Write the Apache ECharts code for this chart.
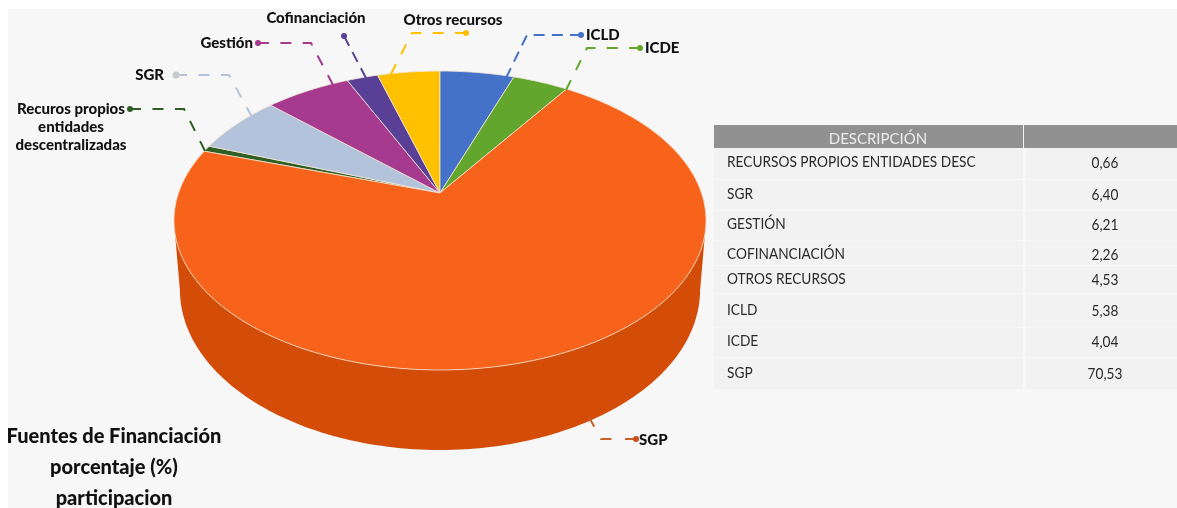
<!DOCTYPE html>
<html><head><meta charset="utf-8">
<style>html,body{margin:0;padding:0;background:#fff}#c{width:1177px;height:508px}</style>
<script src="https://cdn.jsdelivr.net/npm/echarts@6/dist/echarts.min.js"></script>
</head><body><div id="c"></div>
<script>
const categories = ['RECURSOS PROPIOS ENTIDADES DESC','SGR','GESTIÓN','COFINANCIACIÓN','OTROS RECURSOS','ICLD','ICDE','SGP'];
const values = [0.66,6.40,6.21,2.26,4.53,5.38,4.04,70.53];
const valueLabels = ['0,66','6,40','6,21','2,26','4,53','5,38','4,04','70,53'];
const calloutLabels = ['Recuros propios\nentidades\ndescentralizadas','SGR','Gestión','Cofinanciación','Otros recursos','ICLD','ICDE','SGP'];
const topColors = ['#2F5F25','#B4C3DC','#A63A8E','#5A3F96','#FFC000','#4472C8','#63A62E','#F7631B'];
const sideColors = ['#234a1b','#8f9bb0','#7f2c6d','#452f74','#c79500','#34589b','#4c8023','#D34C08'];
const titleLines = ['Fuentes de Financiación','porcentaje (%)','participacion'];
const tableHeader = 'DESCRIPCIÓN';

// layout (pixels), separate from the data
const P = {x:440, y:193, a:261.5, b:144.4, p:0.184, midY:220.5, botY:290, sx:260/266, sy:160/149.5};
const firstAtTop = 5; // ICLD starts at 12 o'clock
const total = values.reduce((s,v)=>s+v,0);
const offset = values.slice(0,firstAtTop).reduce((s,v)=>s+v,0);
function rim(pct){
  const t = (pct-offset)/total*2*Math.PI, u=Math.sin(t), v=-Math.cos(t), d=1-P.p*v;
  return [P.x+P.a*u/d, P.y+P.b*v/d];
}
function lower(pt){ return [P.x+(pt[0]-P.x)*P.sx, P.botY+(pt[1]-P.midY)*P.sy]; }
function arc(from,to){
  const n=Math.max(2,Math.ceil((to-from)*3)), pts=[];
  for(let i=0;i<=n;i++) pts.push(rim(from+(to-from)*i/n));
  return pts;
}
function startOf(i){return values.slice(0,i).reduce((s,v)=>s+v,0);}
const seriesData = values.map((v,i)=>({value:[i,v],name:categories[i]}));

const leaders = [
 [[130,109],[184,109],[205,151]],
 [[176,75],[229,75],[252,117]],
 [[258,43],[311,43],[333,85]],
 [[344,36],[366,78]],
 [[466,33],[412,33],[391,74]],
 [[581,35],[527,35],[506,78]],
 [[640,48],[587,48],[566,90]],
 [[636,439],[601,439],[589,417]]
];
const labelPos = [
 {x:71,y:100,align:'center',lh:18},{x:164,y:75,align:'right'},{x:253,y:43,align:'right'},
 {x:316,y:18,align:'center'},{x:453,y:20,align:'center'},{x:586,y:35,align:'left'},
 {x:645,y:48,align:'left'},{x:639,y:440,align:'left'}
];
const leaderColors = ['#2F5F25','#B4C3DC','#A63A8E','#5A3F96','#FFC000','#4472C8','#63A62E','#C9602C'];
const dotColors = ['#2F5F25','#C4C9CC','#A63A8E','#5A3F96','#FFC000','#4472C8','#63A62E','#C9501C'];
const rowTops = [148,180,211,241,266,294,328,358];
const rowBottoms = [179,210,240,265,293,327,357,389];
const rowText = [162,194,224,254,279,310,341,373];
const FONT = 'Lato';
const TEXT_SQUEEZE = 0.912;

function fitDash(pts){
  let L=0; for(let i=1;i<pts.length;i++) L+=Math.hypot(pts[i][0]-pts[i-1][0],pts[i][1]-pts[i-1][1]);
  const d=11, n=Math.max(2,Math.round((L+9)/20));
  return [d,(L-n*d)/(n-1)];
}

const g = [];
g.push({type:'rect',z:0,shape:{x:8,y:9,width:1169,height:499},style:{fill:'#F7F7F7'}});
// table
g.push({type:'rect',shape:{x:714,y:125,width:309,height:23},style:{fill:'#919191'}});
g.push({type:'rect',shape:{x:1024,y:125,width:153,height:23},style:{fill:'#919191'}});
g.push({type:'text',x:878,y:139,style:{x:0,y:0,text:tableHeader,align:'center',verticalAlign:'middle',fill:'#ececec',font:'15px '+FONT}});
categories.forEach((c,i)=>{
  const h=rowBottoms[i]-rowTops[i];
  g.push({type:'rect',shape:{x:714,y:rowTops[i],width:309,height:h},style:{fill:'#F2F2F2'}});
  g.push({type:'rect',shape:{x:1026,y:rowTops[i],width:151,height:h},style:{fill:'#F2F2F2'}});
  g.push({type:'text',x:727,y:rowText[i],scaleX:TEXT_SQUEEZE,style:{x:0,y:0,text:c,align:'left',verticalAlign:'middle',fill:'#2a2a2a',font:'15px '+FONT}});
  g.push({type:'text',x:1105,y:rowText[i]+1,scaleX:TEXT_SQUEEZE,style:{x:0,y:0,text:valueLabels[i],align:'center',verticalAlign:'middle',fill:'#2a2a2a',font:'15px '+FONT}});
});
// leaders and labels
leaders.forEach((pts,i)=>{
  g.push({type:'polyline',z:5,shape:{points:pts},style:{fill:null,stroke:leaderColors[i],lineWidth:2,lineDash:fitDash(pts)}});
  g.push({type:'circle',z:5,shape:{cx:pts[0][0],cy:pts[0][1],r:i===1?3.5:3},style:{fill:dotColors[i]}});
  const l=labelPos[i];
  g.push({type:'text',z:6,style:{x:l.x,y:l.y,text:calloutLabels[i],align:l.align,verticalAlign:l.lh?'top':'middle',
    lineHeight:l.lh||undefined,fill:'#111',font:'900 15px '+FONT}});
});
// title
titleLines.forEach((t,i)=>g.push({type:'text',z:6,style:{x:114,y:437+i*31,text:t,align:'center',verticalAlign:'middle',fill:'#111',font:'900 20px '+FONT}}));

const wall=(params,api)=>{
  const i=api.value(0), s=startOf(i), e=s+api.value(1);
  const front=arc(s,e).filter(p=>p[1]>=P.midY-0.5);
  if(front.length<2) return {type:'group',children:[]};
  return {type:'polygon',shape:{points:front.concat(front.map(lower).reverse())},style:{fill:sideColors[i]}};
};
const face=(params,api)=>{
  const i=api.value(0), s=startOf(i), e=s+api.value(1);
  return {type:'polygon',shape:{points:[[P.x,P.y]].concat(arc(s,e))},
    style:{fill:topColors[i],stroke:'#F3E6D6',lineWidth:0.8,lineJoin:'round'}};
};
const chart=echarts.init(document.getElementById('c'),null,{renderer:'canvas'});
chart.setOption({
  animation:false,
  backgroundColor:'#fff',
  graphic:g,
  series:[
    {type:'custom',coordinateSystem:'none',z:1,renderItem:wall,data:seriesData,encode:{value:1},silent:true},
    {type:'custom',coordinateSystem:'none',z:2,renderItem:face,data:seriesData,encode:{value:1},silent:true}
  ]
});
</script></body></html>
